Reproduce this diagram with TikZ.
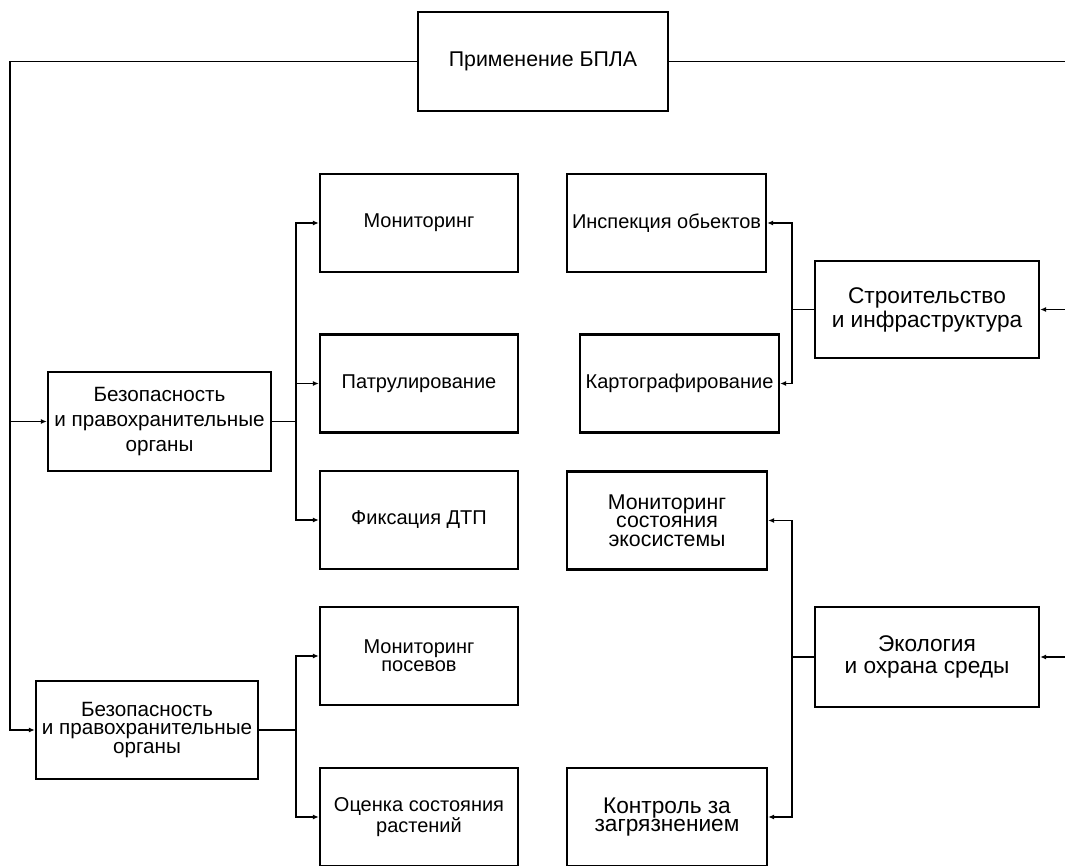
\documentclass[tikz,border=0pt]{standalone}
\usepackage{fontspec}
\setmainfont{Liberation Sans}
\usetikzlibrary{arrows.meta}
\begin{document}
\begin{tikzpicture}[x=0.75pt,y=-0.75pt,
  box/.style={draw, line width=1.8pt, align=center, inner sep=1pt},
  leaf/.style={box, minimum width=148.5pt, minimum height=73.5pt},
  wire/.style={line width=1.4pt},
  arr/.style={wire, -{Latex[length=4.5pt,width=3.8pt]}},
  fa/.style={font=\fontsize{15}{13.8}\selectfont},
  fb/.style={font=\fontsize{15.5}{18.75}\selectfont},
  fc/.style={font=\fontsize{15.5}{13.8}\selectfont},
  fd/.style={font=\fontsize{17}{18}\selectfont},
  fe/.style={font=\fontsize{17}{16.5}\selectfont},
  ff/.style={font=\fontsize{16}{14}\selectfont},
  fg/.style={font=\fontsize{17}{14}\selectfont}
]
\useasboundingbox (0,0) rectangle (1065,865);
\clip (0,0) rectangle (1065,865);

\node[box, minimum width=187.5pt, minimum height=74.25pt, font=\fontsize{16}{19}\selectfont] (top) at (543,61.5) {Применение БПЛА};

\node[box, fb, minimum width=167.25pt, minimum height=74.25pt] (b1) at (159.5,421.5) {Безопасность\\и правохранительные\\органы};
\node[leaf, fa] (m1) at (419,223) {Мониторинг};
\node[leaf, fa] (p1) at (419,383.5) {Патрулирование};
\node[leaf, fa] (f1) at (419,520) {Фиксация ДТП};

\node[box, fc, minimum width=166.5pt, minimum height=73.5pt] (b2) at (147,730) {Безопасность\\и правохранительные\\органы};
\node[leaf, fa] (mp) at (419,656) {Мониторинг\\посевов};
\node[leaf, fa] (oc) at (419,817) {Оценка состояния\\растений};

\node[box, fa, minimum width=149.25pt, minimum height=73.5pt] (ins) at (666.5,223) {Инспекция обьектов};
\node[box, fa, minimum width=149.25pt, minimum height=73.5pt] (kar) at (679.5,383.5) {Картографирование};
\node[box, fd, minimum width=168pt, minimum height=72.75pt] (str) at (927,309.5) {Строительство\\и инфраструктура};

\node[box, ff, minimum width=150pt, minimum height=73.5pt] (ms) at (667,520.5) {Мониторинг\\состояния\\экосистемы};
\node[box, fg, minimum width=150pt, minimum height=73.5pt] (kon) at (667,817) {Контроль за\\загрязнением};
\node[box, fe, minimum width=168pt, minimum height=75pt] (eco) at (927,657) {Экология\\и охрана среды};

% main trunk left
\coordinate (lt) at (10,61.5);
\draw[arr] (top.west) -- (lt) |- (b2.west);
\draw[arr] (lt |- b1.west) -- (b1.west);
% main trunk right
\coordinate (rt) at (1085,61.5);
\draw[arr] (top.east) -- (rt) |- (eco.east);
\draw[arr] (rt |- str.east) -- (str.east);

% group 1
\coordinate (j1) at (296,421.5);
\draw[wire] (b1.east) -- (j1);
\draw[arr] (j1) |- (m1.west);
\draw[arr] (j1) |- (p1.west);
\draw[arr] (j1) |- (f1.west);
% group 2
\coordinate (j2) at (296,730);
\draw[wire] (b2.east) -- (j2);
\draw[arr] (j2) |- (mp.west);
\draw[arr] (j2) |- (oc.west);
% group 3
\coordinate (j3) at (792,309.5);
\draw[wire] (str.west) -- (j3);
\draw[arr] (j3) |- (ins.east);
\draw[arr] (j3) |- (kar.east);
% group 4
\coordinate (j4) at (792,657);
\draw[wire] (eco.west) -- (j4);
\draw[arr] (j4) |- (ms.east);
\draw[arr] (j4) |- (kon.east);
\end{tikzpicture}
\end{document}
